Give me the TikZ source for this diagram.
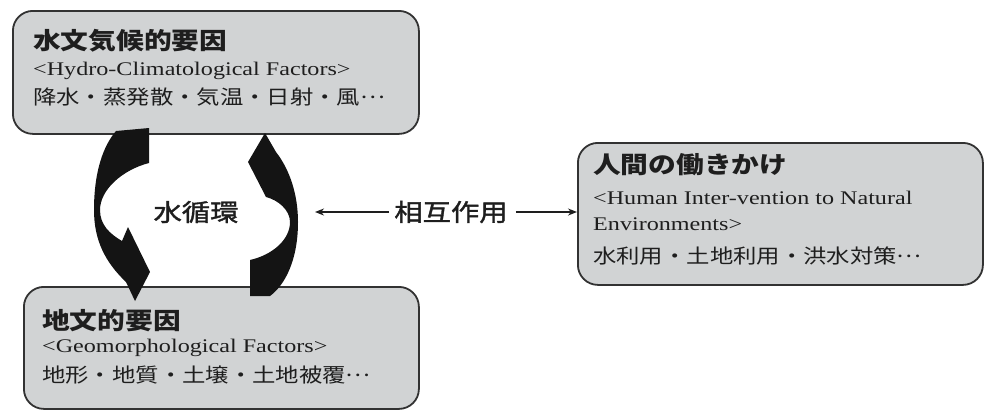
\documentclass[tikz,border=0pt]{standalone}
\usepackage{fontspec}
\setmainfont{Liberation Serif}[FakeStretch=1.25]
\newfontfamily\jp{Noto Sans CJK JP}[FakeStretch=1.18]
\newfontfamily\jpm{Noto Sans CJK JP}[FakeStretch=1.18,FakeBold=1.6]
\usetikzlibrary{arrows.meta}
\definecolor{boxfill}{RGB}{209,211,212}
\definecolor{boxline}{RGB}{50,50,50}
\definecolor{ink}{RGB}{30,30,30}
\newcommand{\dotsjp}{\raisebox{0.3em}{…}}
\begin{document}
\begin{tikzpicture}[x=1pt,y=-1pt,
  box/.style={draw=boxline, line width=1.8, fill=boxfill, rounded corners=20, inner sep=0, anchor=north west},
  ttl/.style={anchor=west, inner sep=0, font=\jp\bfseries\fontsize{23.5}{28}\selectfont, text=ink},
  eng/.style={anchor=base west, inner sep=0, font=\fontsize{19.3}{26}\selectfont, text=ink},
  jpl/.style={anchor=west, inner sep=0, font=\jp\fontsize{19.8}{24}\selectfont, text=ink},
  lbl/.style={inner sep=0, font=\jpm\fontsize{24}{28}\selectfont, text=ink},
  cyc/.style={fill=black!92, draw=none},
  conn/.style={line width=1.6, draw=ink, -{Stealth[length=9,width=7]}}]
\useasboundingbox (0,0) rectangle (984,410);

% boxes
\node[box, minimum width=406, minimum height=123] (hyd) at (12,10) {};
\node[box, minimum width=395, minimum height=122] (geo) at (23,286) {};
\node[box, minimum width=405, minimum height=142] (hum) at (577,142) {};

% texts in box 1
\node[ttl] (hydT) at (33,41) {水文気候的要因};
\node[eng] (hydE) at (33,75) {<Hydro-Climatological Factors>};
\node[jpl] (hydJ) at (33,97) {降水・蒸発散・気温・日射・風\dotsjp};

% texts in box 2
\node[ttl] (geoT) at (42,321) {地文的要因};
\node[eng] (geoE) at (42,352) {<Geomorphological Factors>};
\node[jpl] (geoJ) at (42,375) {地形・地質・土壌・土地被覆\dotsjp};

% texts in box 3
\node[ttl] (humT) at (593,165) {人間の働きかけ};
\node[eng] (humE1) at (593,204) {<Human Inter-vention to Natural};
\node[eng] (humE2) at (593,230) {Environments>};
\node[jpl] (humJ) at (593,256) {水利用・土地利用・洪水対策\dotsjp};

% cycle arrows
\fill[cyc] (116,131) -- (149,128) -- (149,163)
  .. controls (122,170) and (100,190) .. (100,210)
  .. controls (100,225) and (110,234) .. (122,241)
  -- (128,227) -- (150,272) -- (135,301) -- (126,282)
  .. controls (105,262) and (94,240) .. (94,210)
  .. controls (94,170) and (104,145) .. (116,131) -- cycle;
\fill[cyc] (250,296) -- (250,260)
  .. controls (272,255) and (290,240) .. (290,222)
  .. controls (290,210) and (278,200) .. (266,197)
  -- (248,162) -- (265,133) -- (276,152)
  .. controls (290,170) and (298,195) .. (298,222)
  .. controls (298,260) and (285,285) .. (270,296) -- cycle;
\node[lbl] (cycle) at (196,212) {水循環};

% interaction
\node[lbl] (inter) at (451,212) {相互作用};
\coordinate (lt) at (315,212);
\draw[conn, shorten <=5] (inter.west) -- (lt);
\draw[conn, shorten <=8] (inter.east) -- (inter.east -| hum.west);
\end{tikzpicture}
\end{document}
